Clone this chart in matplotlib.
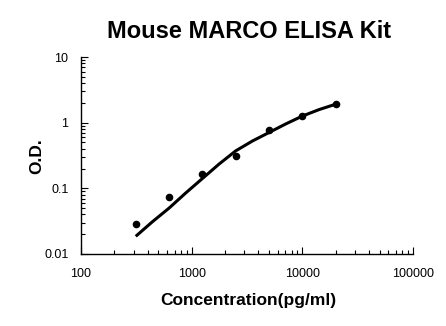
import matplotlib
matplotlib.use("Agg")
import matplotlib.pyplot as plt
from matplotlib.ticker import LogLocator, FixedLocator, NullFormatter

plt.rcParams['font.family'] = ['Liberation Sans', 'DejaVu Sans']

# standards (pg/ml) and measured O.D.
conc = [312.5, 625, 1250, 2500, 5000, 10000, 20000]
od = [0.029, 0.074, 0.164, 0.311, 0.762, 1.26, 1.91]

# fitted standard curve
fit_conc = [312.5, 442, 625, 884, 1250, 1768, 2500, 3536, 5000, 7071, 10000, 14142, 20000]
fit_od = [0.0186, 0.031, 0.050, 0.085, 0.141, 0.234, 0.372, 0.525, 0.708, 0.955, 1.26, 1.58, 1.91]

x_ticks = [100, 1000, 10000, 100000]
x_labels = ['100', '1000', '10000', '100000']
y_ticks = [0.01, 0.1, 1, 10]
y_labels = ['0.01', '0.1', '1', '10']

fig = plt.figure(figsize=(4.46, 3.26), dpi=100)
ax = fig.add_axes([81 / 446, 1 - 254 / 326, 332 / 446, 197 / 326])

ax.plot(fit_conc, fit_od, color='black', lw=2.2, solid_capstyle='butt')
ax.scatter(conc, od, color='black', s=20, zorder=3)

ax.set_xscale('log')
ax.set_yscale('log')
ax.set_xlim(100, 100000)
ax.set_ylim(0.01, 10)

ax.xaxis.set_major_locator(FixedLocator(x_ticks))
ax.set_xticklabels(x_labels)
ax.yaxis.set_major_locator(FixedLocator(y_ticks))
ax.set_yticklabels(y_labels)
ax.xaxis.set_minor_locator(LogLocator(base=10, subs=range(2, 10)))
ax.yaxis.set_minor_locator(LogLocator(base=10, subs=range(2, 10)))
ax.xaxis.set_minor_formatter(NullFormatter())
ax.yaxis.set_minor_formatter(NullFormatter())

for s in ['top', 'right']:
    ax.spines[s].set_visible(False)
for s in ['left', 'bottom']:
    ax.spines[s].set_linewidth(1.0)

ax.tick_params(which='major', direction='in', length=5, width=0.8, labelsize=9)
ax.tick_params(which='minor', direction='in', length=3, width=0.8)
ax.tick_params(axis='y', which='major', pad=9)
ax.tick_params(axis='x', which='major', pad=10)

ax.set_xlabel('Concentration(pg/ml)', fontsize=12.5, fontweight='bold', va='center')
ax.set_ylabel('O.D.', fontsize=12.5, fontweight='bold', va='center')
ax.xaxis.set_label_coords((248 - 81) / 332, (254 - 301) / 197)
ax.yaxis.set_label_coords((37 - 81) / 332, (254 - 156) / 197)
fig.text(249 / 446, 1 - 32 / 326, 'Mouse MARCO ELISA Kit', fontsize=17,
         fontweight='bold', ha='center', va='center')

fig.savefig('out.png', dpi=100)
